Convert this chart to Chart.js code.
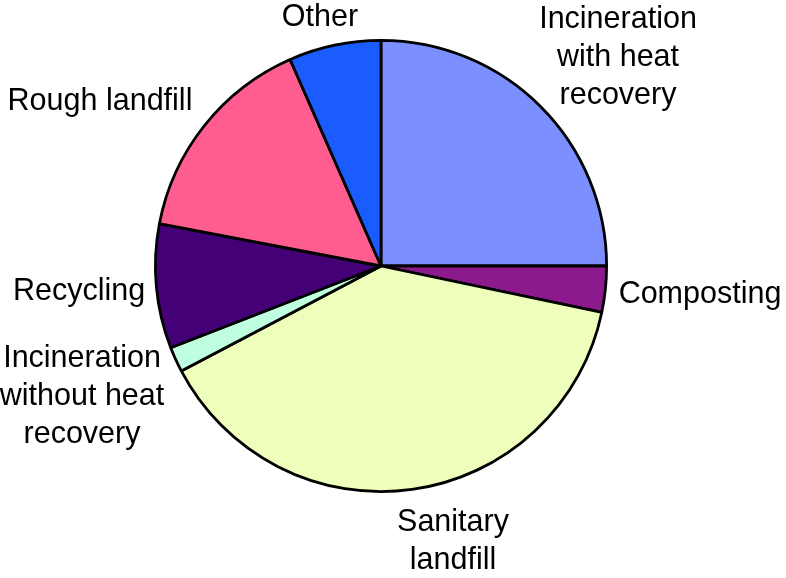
<!DOCTYPE html>
<html>
<head>
<meta charset="utf-8">
<script src="https://cdn.jsdelivr.net/npm/chart.js@4"></script>
<style>
  html, body { margin: 0; padding: 0; background: #fff; }
  #wrap { width: 786px; height: 578px; }
</style>
</head>
<body>
<div id="wrap"><canvas id="pie" width="786" height="578"></canvas></div>
<script>
const categories = [
  "Incineration with heat recovery",
  "Composting",
  "Sanitary landfill",
  "Incineration without heat recovery",
  "Recycling",
  "Rough landfill",
  "Other",
];
const shares = [25, 3.3, 39, 1.8, 8.9, 15.4, 6.6];
const labelLines = [
  ["Incineration", "with heat", "recovery"],
  ["Composting"],
  ["Sanitary", "landfill"],
  ["Incineration", "without heat", "recovery"],
  ["Recycling"],
  ["Rough landfill"],
  ["Other"],
];

const colors = ["#7b8fff", "#8c1a8c", "#eeffbb", "#bfffe0", "#440077", "#ff5c90", "#1a5cff"];
// label centres, in pixels from the pie centre
const labelPos = [
  [237, -208], [319, 29], [72, 276], [-299, 131], [-302, 26], [-281, -164], [-61, -248],
];

const outsideLabels = {
  id: "outsideLabels",
  afterDraw(chart) {
    const ctx = chart.ctx;
    const arc = chart.getDatasetMeta(0).data[0];
    ctx.save();
    ctx.font = "30.5px 'Liberation Sans', Arial, sans-serif";
    ctx.fillStyle = "#000";
    ctx.textAlign = "center";
    ctx.textBaseline = "middle";
    const lh = 38;
    labelLines.forEach((lines, i) => {
      const x = arc.x + labelPos[i][0];
      const y0 = arc.y + labelPos[i][1] - ((lines.length - 1) * lh) / 2;
      lines.forEach((t, j) => ctx.fillText(t, x, y0 + j * lh));
    });
    ctx.restore();
  },
};

new Chart(document.getElementById("pie"), {
  type: "pie",
  data: {
    labels: categories,
    datasets: [
      {
        data: shares,
        backgroundColor: colors,
        borderColor: "#000",
        borderWidth: 2.8,
      },
    ],
  },
  options: {
    responsive: false,
    animation: false,
    layout: { padding: { left: 154, right: 178, top: 39, bottom: 85 } },
    plugins: {
      legend: { display: false },
      tooltip: { enabled: false },
    },
  },
  plugins: [outsideLabels],
});
</script>
</body>
</html>
